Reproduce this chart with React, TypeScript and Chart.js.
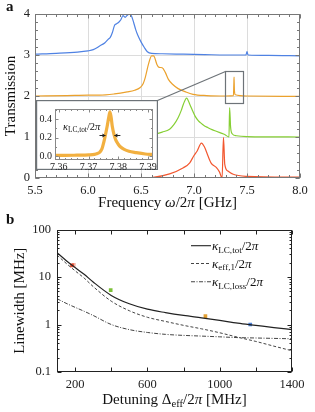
import React, { useEffect, useRef } from "react";
import { Chart, registerables } from "chart.js";
Chart.register(...registerables);

const SERIF = "'Liberation Serif', 'Times New Roman', serif";

// ---------- Panel a: transmission spectra ----------
const freqTicks = [5.5, 6.0, 6.5, 7.0, 7.5, 8.0];
const transTicks = [0, 1, 2, 3, 4];
const traceOffsets = [3, 2, 1, 0];
const traceColors = ["#4f82e3", "#eba12c", "#86cf34", "#f2572f"];

const blueF = [5.5, 5.7, 5.9, 6.0, 6.05, 6.11, 6.16, 6.19, 6.21, 6.23, 6.25, 6.27, 6.29, 6.31, 6.33, 6.35, 6.37, 6.39, 6.41, 6.43, 6.45, 6.47, 6.5, 6.53, 6.56, 6.6, 6.7, 6.9, 7.1, 7.3, 7.49, 7.5, 7.51, 7.7, 8.0];
const blueT = [0.02, 0.04, 0.07, 0.1, 0.13, 0.22, 0.3, 0.38, 0.43, 0.55, 0.72, 0.76, 0.8, 0.86, 0.96, 0.92, 0.97, 1.0, 0.95, 0.8, 0.62, 0.48, 0.32, 0.19, 0.08, 0.04, 0.03, 0.02, 0.01, 0.0, 0.0, 0.08, 0.0, -0.01, -0.02];

const orangeF = [5.5, 5.8, 6.0, 6.11, 6.25, 6.37, 6.44, 6.49, 6.52, 6.54, 6.57, 6.6, 6.62, 6.63, 6.65, 6.67, 6.7, 6.73, 6.76, 6.8, 6.85, 6.92, 6.99, 7.12, 7.3, 7.372, 7.376, 7.378, 7.381, 7.39, 7.5, 8.0];
const orangeT = [0.0, 0.01, 0.02, 0.02, 0.05, 0.1, 0.14, 0.2, 0.3, 0.45, 0.77, 0.98, 0.98, 0.93, 0.77, 0.7, 0.69, 0.57, 0.4, 0.28, 0.18, 0.1, 0.04, 0.01, 0.0, 0.01, 0.3, 0.46, 0.15, 0.03, 0.0, -0.01];

const greenF = [5.5, 6.0, 6.4, 6.6, 6.7, 6.77, 6.81, 6.85, 6.88, 6.9, 6.93, 6.96, 6.99, 7.01, 7.04, 7.06, 7.1, 7.13, 7.17, 7.21, 7.25, 7.29, 7.33, 7.336, 7.345, 7.36, 7.4, 7.5, 8.0];
const greenT = [0.0, 0.01, 0.02, 0.05, 0.12, 0.19, 0.3, 0.47, 0.65, 0.8, 0.95, 0.8, 0.62, 0.51, 0.4, 0.35, 0.27, 0.23, 0.18, 0.14, 0.1, 0.06, 0.0, 0.72, 0.25, 0.08, 0.03, 0.01, 0.0];

const redF = [5.5, 6.0, 6.5, 6.6, 6.77, 6.9, 6.96, 7.0, 7.03, 7.07, 7.1, 7.12, 7.16, 7.21, 7.24, 7.265, 7.278, 7.29, 7.32, 7.37, 7.5, 8.0];
const redT = [0.0, 0.0, 0.0, 0.01, 0.1, 0.25, 0.37, 0.55, 0.66, 0.85, 0.75, 0.62, 0.37, 0.26, 0.15, 0.0, 0.99, 0.34, 0.17, 0.09, 0.04, 0.02];

const traceF = [blueF, orangeF, greenF, redF];
const traceT = [blueT, orangeT, greenT, redT];

// zoom box (frequency range, transmission range) around the orange narrow resonance
const zoomBoxF = [7.29, 7.46];
const zoomBoxT = [1.84, 2.62];

// ---------- Inset ----------
const insetTicksF = [7.36, 7.37, 7.38, 7.39];
const insetTicksT = [0.0, 0.2, 0.4];
const insetF = [7.3587, 7.362, 7.366, 7.37, 7.372, 7.373, 7.3736, 7.3745, 7.3752, 7.3758, 7.3763, 7.3768, 7.3772, 7.3776, 7.378, 7.3786, 7.3791, 7.38, 7.3808, 7.382, 7.3836, 7.386, 7.3891, 7.3917];
const insetT = [0.01, 0.01, 0.012, 0.015, 0.02, 0.03, 0.04, 0.08, 0.16, 0.25, 0.33, 0.42, 0.48, 0.42, 0.32, 0.23, 0.18, 0.13, 0.1, 0.075, 0.055, 0.04, 0.025, 0.02];
const insetArrowF = [7.3757, 7.3787];
const insetArrowT = 0.23;

// ---------- Panel b: linewidths ----------
const detTicks = [200, 600, 1000, 1400];
const detMajorMarks = [200, 400, 600, 800, 1000, 1200, 1400];
const lwTicks = [0.1, 1, 10, 100];
const detuning = [100, 150, 200, 250, 300, 400, 500, 600, 700, 800, 900, 1000, 1100, 1200, 1300, 1400];
const kappaTot = [32.5, 22.3, 15.8, 11.4, 7.85, 4.1, 2.73, 2.1, 1.78, 1.55, 1.38, 1.22, 1.07, 0.96, 0.86, 0.78];
const kappaEff = [29, 19.5, 13.5, 9.5, 6.3, 3.1, 1.95, 1.42, 1.16, 0.96, 0.81, 0.67, 0.54, 0.44, 0.35, 0.28];
const kappaLoss = [3.5, 2.8, 2.3, 1.9, 1.55, 1.0, 0.78, 0.68, 0.62, 0.59, 0.57, 0.55, 0.53, 0.52, 0.51, 0.5];
const measDet = [193, 183, 397, 921, 1169];
const measKappa = [18, 17.5, 5.3, 1.5, 1.0];
const measColors = ["#f6b0a0", "#e9472b", "#7cc038", "#e3a033", "#4a80d8"];

type Seg = { t: string; it?: boolean; sub?: boolean };

function drawRich(ctx: CanvasRenderingContext2D, segs: Seg[], x: number, y: number, size: number, align: string = "left", color = "#111") {
  const fontOf = (s: Seg) => `${s.it ? "italic " : ""}${s.sub ? (size * 0.7).toFixed(1) : size}px ${SERIF}`;
  let w = 0;
  const widths = segs.map((s) => {
    ctx.font = fontOf(s);
    const m = ctx.measureText(s.t).width;
    w += m;
    return m;
  });
  let cx = align === "center" ? x - w / 2 : align === "right" ? x - w : x;
  ctx.save();
  ctx.fillStyle = color;
  ctx.textBaseline = "alphabetic";
  ctx.textAlign = "left";
  segs.forEach((s, i) => {
    ctx.font = fontOf(s);
    ctx.fillText(s.t, cx, s.sub ? y + size * 0.22 : y);
    cx += widths[i];
  });
  ctx.restore();
}

function frameAndTicks(chart: any, o: any) {
  const { ctx, chartArea: a, scales } = chart;
  const x = scales.x;
  const y = scales.y;
  const L = Math.round(a.left) + 0.5;
  const R = Math.round(a.right) - 0.5;
  const T = Math.round(a.top) + 0.5;
  const B = Math.round(a.bottom) - 0.5;
  ctx.save();
  ctx.strokeStyle = o.color;
  ctx.lineWidth = 1;
  ctx.beginPath();
  const vx = (v: number, len: number) => {
    const p = Math.round(x.getPixelForValue(v)) + 0.5;
    ctx.moveTo(p, B);
    ctx.lineTo(p, B - len);
    ctx.moveTo(p, T);
    ctx.lineTo(p, T + len);
  };
  const hy = (v: number, len: number) => {
    const p = Math.round(y.getPixelForValue(v)) + 0.5;
    ctx.moveTo(L, p);
    ctx.lineTo(L + len, p);
    ctx.moveTo(R, p);
    ctx.lineTo(R - len, p);
  };
  o.xMajor.forEach((v: number) => vx(v, o.major));
  o.xMinor.forEach((v: number) => vx(v, o.minor));
  o.yMajor.forEach((v: number) => hy(v, o.major));
  o.yMinor.forEach((v: number) => hy(v, o.minor));
  ctx.stroke();
  ctx.strokeRect(L, T, R - L, B - T);
  ctx.restore();
}

function rotatedText(ctx: CanvasRenderingContext2D, text: string, x: number, y: number, size: number) {
  ctx.save();
  ctx.translate(x, y);
  ctx.rotate(-Math.PI / 2);
  ctx.font = `${size}px ${SERIF}`;
  ctx.fillStyle = "#111";
  ctx.textAlign = "center";
  ctx.textBaseline = "middle";
  ctx.fillText(text, 0, 0);
  ctx.restore();
}

const tickFont = { family: SERIF, size: 12.5 };

function range(a: number, b: number, step: number) {
  const out: number[] = [];
  for (let v = a; v <= b + 1e-9; v += step) out.push(Math.round(v * 1e6) / 1e6);
  return out;
}

function configA(): any {
  const datasets = traceF.map((fs, k) => ({
    data: fs.map((f, i) => ({ x: f, y: traceT[k][i] + traceOffsets[k] })),
    borderColor: traceColors[k],
    borderWidth: 1.2,
    pointRadius: 0,
    cubicInterpolationMode: "monotone",
    fill: false,
  }));
  const plugin = {
    id: "panelA",
    afterDatasetsDraw(chart: any) {
      const { ctx, scales } = chart;
      const x = scales.x;
      const y = scales.y;
      frameAndTicks(chart, {
        color: "#777",
        major: 4,
        minor: 2.5,
        xMajor: freqTicks,
        xMinor: range(5.5, 8.0, 0.1),
        yMajor: transTicks,
        yMinor: range(0, 4, 0.2),
      });
      // zoom box + connector to inset
      const x0 = x.getPixelForValue(zoomBoxF[0]);
      const x1 = x.getPixelForValue(zoomBoxF[1]);
      const y0 = y.getPixelForValue(zoomBoxT[1]);
      const y1 = y.getPixelForValue(zoomBoxT[0]);
      ctx.save();
      ctx.strokeStyle = "#6d7378";
      ctx.lineWidth = 1.2;
      ctx.strokeRect(Math.round(x0) + 0.5, Math.round(y0) + 0.5, Math.round(x1 - x0), Math.round(y1 - y0));
      ctx.beginPath();
      ctx.moveTo(Math.round(x0) + 0.5, Math.round(y0) + 0.5);
      ctx.lineTo(157.5, 100.5);
      ctx.stroke();
      ctx.restore();
      // titles
      drawRich(ctx, [{ t: "Frequency " }, { t: "ω", it: true }, { t: "/2" }, { t: "π", it: true }, { t: " [GHz]" }], (chart.chartArea.left + chart.chartArea.right) / 2, 207, 15, "center");
      rotatedText(ctx, "Transmission", 11, (chart.chartArea.top + chart.chartArea.bottom) / 2, 15);
      ctx.save();
      ctx.font = `bold 15px ${SERIF}`;
      ctx.fillStyle = "#111";
      ctx.fillText("a", 6, 11);
      ctx.restore();
    },
  };
  return {
    type: "line",
    data: { datasets },
    plugins: [plugin],
    options: {
      responsive: false,
      animation: false,
      layout: { padding: { left: 0, top: 14, right: 15, bottom: 0 } },
      plugins: { legend: { display: false }, tooltip: { enabled: false } },
      scales: {
        x: {
          type: "linear",
          min: 5.5,
          max: 8.0,
          afterBuildTicks: (s: any) => {
            s.ticks = freqTicks.map((v) => ({ value: v }));
          },
          afterFit: (s: any) => {
            s.height = 37;
            s.paddingLeft = 0;
            s.paddingRight = 0;
          },
          ticks: { callback: (v: any) => Number(v).toFixed(1), font: tickFont, color: "#222", padding: 5, maxRotation: 0, autoSkip: false },
          grid: { drawTicks: false, color: (c: any) => (c.tick && c.tick.value > 5.5 && c.tick.value < 8.0 ? "#dcdcdc" : "rgba(0,0,0,0)") },
          border: { display: false },
        },
        y: {
          min: 0,
          max: 4,
          afterBuildTicks: (s: any) => {
            s.ticks = transTicks.map((v) => ({ value: v }));
          },
          afterFit: (s: any) => {
            s.width = 35;
          },
          ticks: { callback: (v: any) => String(v), font: tickFont, color: "#222", padding: 5 },
          grid: { drawTicks: false, color: (c: any) => (c.tick && c.tick.value > 0 && c.tick.value < 4 ? "#dcdcdc" : "rgba(0,0,0,0)") },
          border: { display: false },
        },
      },
    },
  };
}

function configInset(): any {
  const pts = insetF.map((f, i) => ({ x: f, y: insetT[i] }));
  const plugin = {
    id: "inset",
    beforeDraw(chart: any) {
      const { ctx, width, height } = chart;
      ctx.save();
      ctx.fillStyle = "#fff";
      ctx.fillRect(0, 0, width, height);
      ctx.strokeStyle = "#6d7378";
      ctx.lineWidth = 1.2;
      ctx.strokeRect(0.6, 0.6, width - 1.2, height - 1.2);
      ctx.restore();
    },
    afterDatasetsDraw(chart: any) {
      const { ctx, scales } = chart;
      frameAndTicks(chart, {
        color: "#888",
        major: 3,
        minor: 1.5,
        xMajor: insetTicksF,
        xMinor: range(7.36, 7.39, 0.002),
        yMajor: insetTicksT,
        yMinor: [0.1, 0.3, 0.5],
      });
      const x = scales.x;
      const y = scales.y;
      const ay = Math.round(y.getPixelForValue(insetArrowT)) + 0.5;
      const xl = x.getPixelForValue(insetArrowF[0]);
      const xr = x.getPixelForValue(insetArrowF[1]);
      ctx.save();
      ctx.strokeStyle = "#222";
      ctx.fillStyle = "#222";
      ctx.lineWidth = 1;
      ctx.beginPath();
      ctx.moveTo(xl - 6, ay);
      ctx.lineTo(xl, ay);
      ctx.moveTo(xr + 6, ay);
      ctx.lineTo(xr, ay);
      ctx.stroke();
      ctx.beginPath();
      ctx.moveTo(xl, ay);
      ctx.lineTo(xl - 3, ay - 2);
      ctx.lineTo(xl - 3, ay + 2);
      ctx.closePath();
      ctx.moveTo(xr, ay);
      ctx.lineTo(xr + 3, ay - 2);
      ctx.lineTo(xr + 3, ay + 2);
      ctx.closePath();
      ctx.fill();
      ctx.restore();
      drawRich(ctx, [{ t: "κ", it: true }, { t: "LC,tot", sub: true }, { t: "/2" }, { t: "π", it: true }], 27, 30, 10.5, "left");
    },
  };
  return {
    type: "line",
    data: {
      datasets: [
        { data: pts, borderColor: "#f2b040", borderWidth: 3.2, pointRadius: 0, cubicInterpolationMode: "monotone" },
        { data: pts, borderColor: "#7a5212", borderWidth: 1, pointRadius: 0, cubicInterpolationMode: "monotone" },
      ],
    },
    plugins: [plugin],
    options: {
      responsive: false,
      animation: false,
      layout: { padding: { left: 0, top: 2, right: 5, bottom: 0 } },
      plugins: { legend: { display: false }, tooltip: { enabled: false } },
      scales: {
        x: {
          type: "linear",
          min: 7.3587,
          max: 7.3917,
          afterBuildTicks: (s: any) => {
            s.ticks = insetTicksF.map((v) => ({ value: v }));
          },
          afterFit: (s: any) => {
            s.height = 10;
            s.paddingLeft = 0;
            s.paddingRight = 0;
          },
          ticks: { callback: (v: any) => Number(v).toFixed(2), font: { family: SERIF, size: 10 }, color: "#222", padding: 1, maxRotation: 0, autoSkip: false },
          grid: { display: false, drawTicks: false },
          border: { display: false },
        },
        y: {
          min: -0.04,
          max: 0.51,
          afterBuildTicks: (s: any) => {
            s.ticks = insetTicksT.map((v) => ({ value: v }));
          },
          afterFit: (s: any) => {
            s.width = 19;
          },
          ticks: { callback: (v: any) => Number(v).toFixed(1), font: { family: SERIF, size: 10 }, color: "#222", padding: 3 },
          grid: { display: false, drawTicks: false },
          border: { display: false },
        },
      },
    },
  };
}

function configB(): any {
  const legendItems: { segs: Seg[]; dash: number[] }[] = [
    { segs: [{ t: "κ", it: true }, { t: "LC,tot", sub: true }, { t: "/2" }, { t: "π", it: true }], dash: [] },
    { segs: [{ t: "κ", it: true }, { t: "eff,1", sub: true }, { t: "/2" }, { t: "π", it: true }], dash: [3, 2] },
    { segs: [{ t: "κ", it: true }, { t: "LC,loss", sub: true }, { t: "/2" }, { t: "π", it: true }], dash: [4, 1.5, 1, 1.5] },
  ];
  const lineColors = ["#222", "#444", "#444"];
  const plugin = {
    id: "panelB",
    afterDatasetsDraw(chart: any) {
      const { ctx, chartArea } = chart;
      const decadeMinor: number[] = [];
      [0.1, 1, 10].forEach((d) => [2, 3, 4, 5, 6, 7, 8, 9].forEach((k) => decadeMinor.push(d * k)));
      frameAndTicks(chart, {
        color: "#222",
        major: 4,
        minor: 2,
        xMajor: detMajorMarks,
        xMinor: [],
        yMajor: lwTicks,
        yMinor: decadeMinor,
      });
      // legend
      const ys = [33.7, 51.5, 69.7];
      legendItems.forEach((it, i) => {
        ctx.save();
        ctx.strokeStyle = lineColors[i];
        ctx.lineWidth = 1.1;
        ctx.setLineDash(it.dash);
        ctx.beginPath();
        ctx.moveTo(191, ys[i]);
        ctx.lineTo(211, ys[i]);
        ctx.stroke();
        ctx.restore();
        drawRich(ctx, it.segs, 212, ys[i] + 4, 13, "left");
      });
      drawRich(ctx, [{ t: "Detuning " }, { t: "Δ" }, { t: "eff", sub: true }, { t: "/2" }, { t: "π", it: true }, { t: " [MHz]" }], (chartArea.left + chartArea.right) / 2, 192, 15, "center");
      rotatedText(ctx, "Linewidth [MHz]", 20, (chartArea.top + chartArea.bottom) / 2, 15);
      ctx.save();
      ctx.font = `bold 15px ${SERIF}`;
      ctx.fillStyle = "#111";
      ctx.fillText("b", 6, 12);
      ctx.restore();
    },
  };
  const mk = (vals: number[]) => detuning.map((d, i) => ({ x: d, y: vals[i] }));
  return {
    type: "line",
    data: {
      datasets: [
        { data: mk(kappaTot), borderColor: "#222", borderWidth: 1.2, pointRadius: 0, cubicInterpolationMode: "monotone" },
        { data: mk(kappaEff), borderColor: "#444", borderWidth: 1, borderDash: [3, 2], pointRadius: 0, cubicInterpolationMode: "monotone" },
        { data: mk(kappaLoss), borderColor: "#444", borderWidth: 1, borderDash: [4, 1.5, 1, 1.5], pointRadius: 0, cubicInterpolationMode: "monotone" },
        {
          data: measDet.map((d, i) => ({ x: d, y: measKappa[i] })),
          showLine: false,
          pointStyle: "rect",
          pointRadius: 2.6,
          pointBorderWidth: 0,
          pointBackgroundColor: measColors,
          pointBorderColor: measColors,
        },
      ],
    },
    plugins: [plugin],
    options: {
      responsive: false,
      animation: false,
      layout: { padding: { left: 0, top: 17.5, right: 23, bottom: 0 } },
      plugins: { legend: { display: false }, tooltip: { enabled: false } },
      scales: {
        x: {
          type: "linear",
          min: 100,
          max: 1400,
          afterBuildTicks: (s: any) => {
            s.ticks = detTicks.map((v) => ({ value: v }));
          },
          afterFit: (s: any) => {
            s.height = 40;
            s.paddingLeft = 0;
            s.paddingRight = 0;
          },
          ticks: { callback: (v: any) => String(v), font: tickFont, color: "#222", padding: 5, maxRotation: 0, autoSkip: false },
          grid: { display: false, drawTicks: false },
          border: { display: false },
        },
        y: {
          type: "logarithmic",
          min: 0.1,
          max: 100,
          afterBuildTicks: (s: any) => {
            s.ticks = lwTicks.map((v) => ({ value: v }));
          },
          afterFit: (s: any) => {
            s.width = 57;
          },
          ticks: { callback: (v: any) => String(v), font: tickFont, color: "#222", padding: 6 },
          grid: { display: false, drawTicks: false },
          border: { display: false },
        },
      },
    },
  };
}

export default function App() {
  const aRef = useRef<HTMLCanvasElement>(null);
  const iRef = useRef<HTMLCanvasElement>(null);
  const bRef = useRef<HTMLCanvasElement>(null);
  useEffect(() => {
    const ca = new Chart(aRef.current as HTMLCanvasElement, configA());
    const ci = new Chart(iRef.current as HTMLCanvasElement, configInset());
    const cb = new Chart(bRef.current as HTMLCanvasElement, configB());
    return () => {
      ca.destroy();
      ci.destroy();
      cb.destroy();
    };
  }, []);
  return (
    <div style={{ position: "absolute", left: 0, top: 0, width: 315, height: 412, background: "#fff", overflow: "hidden" }}>
      <canvas ref={aRef} width={315} height={215} style={{ position: "absolute", left: 0, top: 0 }} />
      <canvas ref={iRef} width={122} height={70} style={{ position: "absolute", left: 36, top: 100 }} />
      <canvas ref={bRef} width={315} height={200} style={{ position: "absolute", left: 0, top: 212 }} />
    </div>
  );
}
